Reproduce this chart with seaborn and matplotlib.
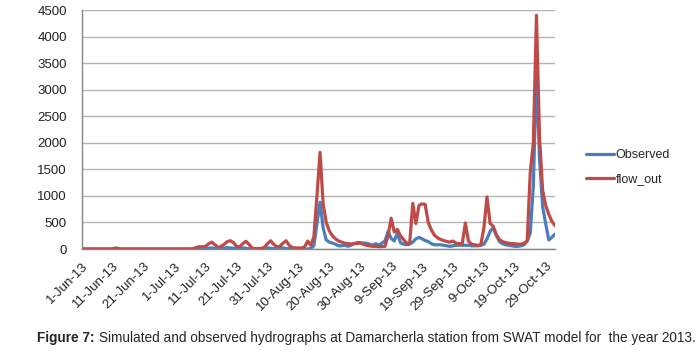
import numpy as np
import pandas as pd
import matplotlib
matplotlib.use('Agg')
import matplotlib.pyplot as plt
import matplotlib.dates as mdates
import seaborn as sns

# daily discharge, 1-Jun-13 .. 1-Nov-13 (154 days)
observed = [
    0, 0, 0, 0, 0, 0, 0, 0, 0, 0,              # 1-10 Jun
    0, 0, 0, 0, 0, 0, 0, 0, 0, 0,              # 11-20 Jun
    0, 0, 0, 0, 0, 0, 0, 0, 0, 0,              # 21-30 Jun
    0, 0, 0, 0, 0, 0, 0, 5, 15, 20,            # 1-10 Jul
    10, 15, 20, 10, 5, 10, 20, 25, 20, 15,     # 11-20 Jul
    5, 15, 20, 15, 5, 0, 0, 0, 5, 15,          # 21-30 Jul
    20, 15, 5, 10, 20, 20, 10, 5, 0, 0,        # 31 Jul-9 Aug
    0, 0, 0, 0, 10, 60, 480, 880, 400, 170,    # 10-19 Aug
    130, 110, 90, 60, 60, 70, 50, 70, 100, 120,  # 20-29 Aug
    120, 110, 110, 90, 70, 100, 70, 110, 150, 330,  # 30 Aug-8 Sep
    200, 150, 300, 120, 90, 80, 90, 130, 190, 220,  # 9-18 Sep
    190, 160, 140, 100, 80, 80, 80, 70, 60, 50,     # 19-28 Sep
    60, 70, 70, 70, 70, 70, 60, 60, 60, 70,         # 29 Sep-8 Oct
    90, 190, 330, 400, 260, 140, 100, 80, 70, 60,   # 9-18 Oct
    50, 50, 60, 80, 150, 300, 1200, 3350, 1700, 800,  # 19-28 Oct
    470, 170, 220, 280,                             # 29 Oct-1 Nov
]
flow_out = [
    0, 0, 0, 0, 0, 0, 0, 0, 0, 0,
    5, 20, 5, 0, 0, 0, 0, 0, 0, 0,
    0, 0, 0, 0, 0, 0, 0, 0, 0, 0,
    0, 0, 0, 0, 0, 0, 5, 30, 45, 40,
    50, 100, 130, 80, 30, 50, 90, 140, 155, 120,
    50, 40, 100, 145, 90, 15, 10, 10, 10, 30,
    100, 155, 90, 40, 50, 110, 155, 70, 30, 20,
    20, 20, 40, 150, 70, 230, 1000, 1820, 850, 500,
    340, 250, 190, 150, 130, 110, 100, 95, 100, 105,
    110, 90, 70, 60, 50, 50, 45, 45, 50, 250,
    580, 320, 370, 250, 180, 110, 110, 860, 480, 820,
    850, 840, 500, 360, 260, 210, 180, 160, 140, 130,
    150, 110, 100, 100, 490, 150, 90, 80, 70, 80,
    400, 980, 480, 430, 270, 180, 140, 120, 110, 100,
    100, 90, 90, 110, 150, 1450, 2000, 4400, 2100, 1100,
    820, 650, 520, 440,
]
dates = pd.date_range('2013-06-01', periods=len(observed), freq='D')
tick_dates = pd.date_range('2013-06-01', '2013-10-29', freq='10D')
y_ticks = list(range(0, 4501, 500))

df = pd.DataFrame({'date': dates, 'Observed': observed, 'flow_out': flow_out})
long_df = df.melt(id_vars='date', var_name='series', value_name='flow')

sns.set_style('white')
plt.rcParams['font.family'] = ['Liberation Sans', 'DejaVu Sans']

fig = plt.figure(figsize=(6.99, 3.51), dpi=100)
ax = fig.add_axes([82 / 699, 1 - 249 / 351, (555 - 82) / 699, (249 - 10) / 351])

palette = {'Observed': '#4a7ebb', 'flow_out': '#be4b48'}
sns.lineplot(data=long_df, x='date', y='flow', hue='series', palette=palette,
             linewidth=2.3, ax=ax, legend=False)

ax.set_xlim(dates[0], dates[-1])
ax.set_ylim(0, 4500)
ax.set_yticks(y_ticks)
ax.set_xticks(tick_dates)
ax.xaxis.set_major_formatter(mdates.DateFormatter('%-d-%b-%y'))
ax.set_xlabel('')
ax.set_ylabel('')

ax.grid(axis='y', color='#b4b4b4', linewidth=1)
ax.set_axisbelow(True)
for side in ['top', 'right']:
    ax.spines[side].set_visible(False)
for side in ['left', 'bottom']:
    ax.spines[side].set_color('#868686')
    ax.spines[side].set_linewidth(1)
ax.tick_params(axis='both', direction='out', length=4, width=1, color='#868686',
               labelsize=9.5, labelcolor='#222222', pad=4)
ax.tick_params(axis='y', pad=7)
plt.setp(ax.get_xticklabels(), rotation=45, ha='right', rotation_mode='anchor')

# legend to the right
handles = [plt.Line2D([], [], color=palette[k], lw=2.3) for k in ['Observed', 'flow_out']]
fig.legend(handles, ['Observed', 'flow_out'], loc='upper left',
           bbox_to_anchor=(580 / 699, 1 - 143 / 351), frameon=False, fontsize=9,
           handlelength=2.2, handletextpad=0.15, labelspacing=0.95, borderpad=0)

# caption
t1 = fig.text(37 / 699, 1 - 342 / 351, 'Figure 7:', fontsize=9.8, fontweight='bold',
              ha='left', va='baseline')
ax.annotate('Simulated and observed hydrographs at Damarcherla station from SWAT model for  the year 2013.',
            xy=(1, 0), xycoords=t1, xytext=(3, 0), textcoords='offset points',
            fontsize=9.8, ha='left', va='bottom', annotation_clip=False)

fig.savefig('out.png', dpi=100)
